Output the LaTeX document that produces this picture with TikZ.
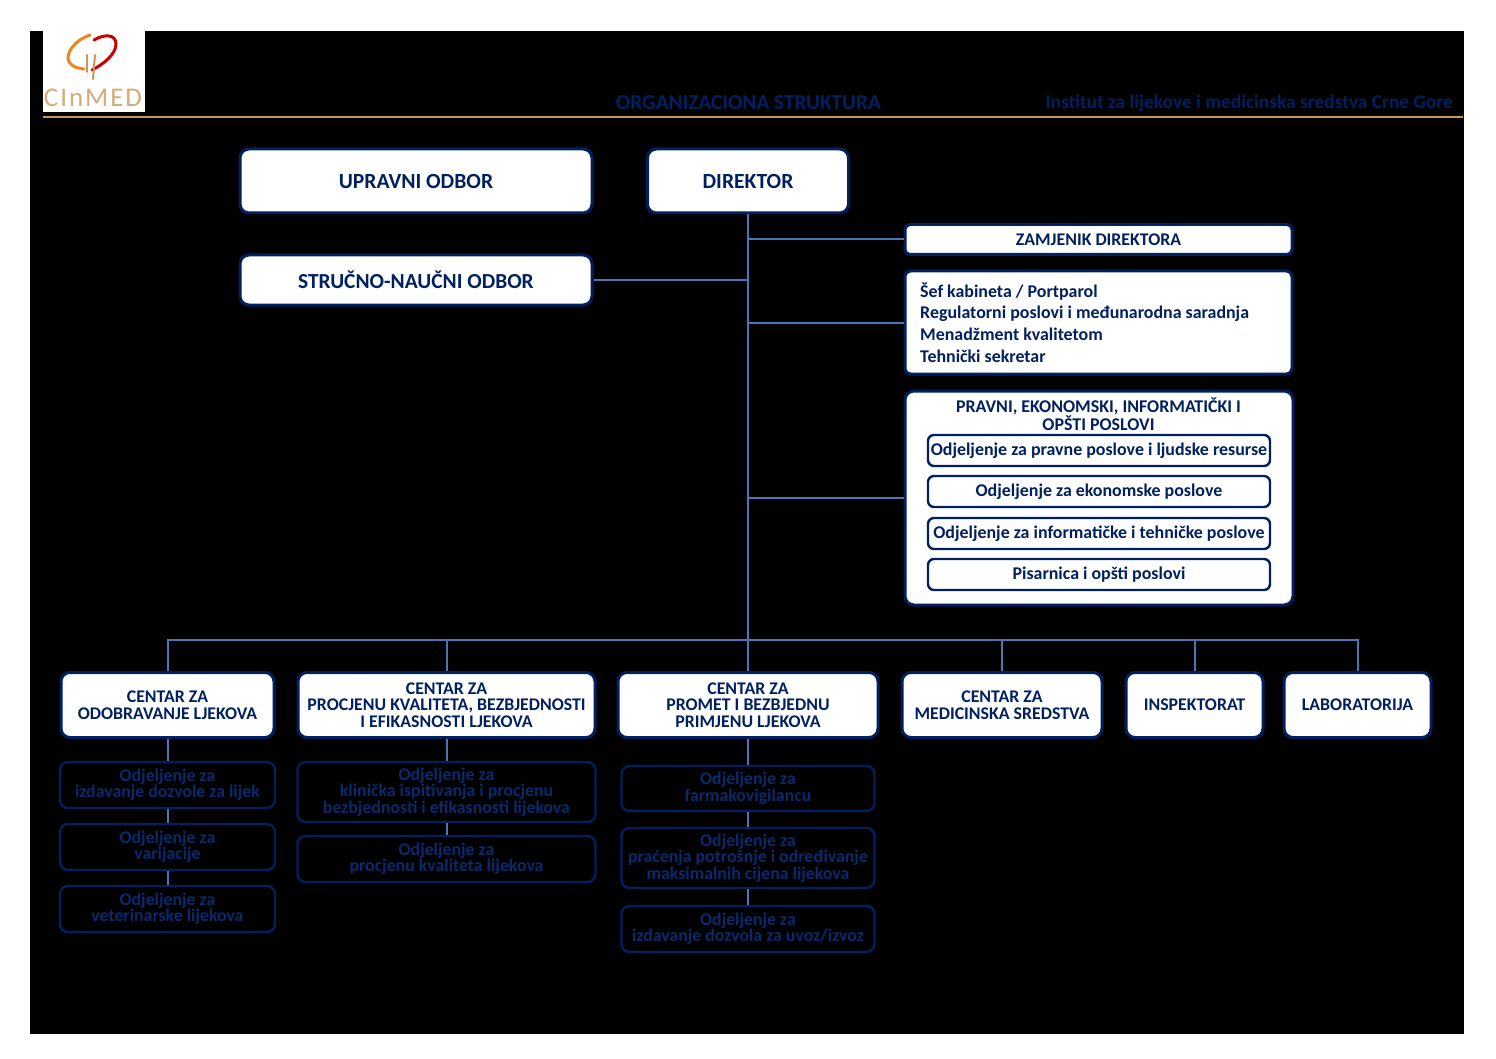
\documentclass[tikz,border=0pt]{standalone}
\usepackage{fontspec}
\setmainfont{Carlito}
\definecolor{navy}{HTML}{002060}
\definecolor{deptblue}{HTML}{0A2A6E}
\definecolor{conn}{HTML}{4A76B8}
\definecolor{tan}{HTML}{C8975A}
\newcommand{\fs}[2]{\fontsize{#1}{#2}\selectfont\bfseries}
\begin{document}
\begin{tikzpicture}[x=1pt,y=-1pt,
  box/.style={draw=navy,line width=3pt,fill=white,rounded corners=9pt,inner sep=0pt,align=center,text=navy,font=\fs{17.8}{16.5}},
  subbox/.style={draw=navy,line width=2.4pt,fill=white,rounded corners=6pt,inner sep=0pt,align=center,text=navy,font=\fs{17.9}{18}},
  dept/.style={draw=navy,line width=2.4pt,fill=black,rounded corners=8pt,inner sep=0pt,align=center,text=deptblue,font=\fs{17.8}{16.5}},
  link/.style={draw=conn,line width=2pt}]
\useasboundingbox (0,0) rectangle (1496,1059);
\fill[white] (0,0) rectangle (1496,1059);
\fill[black] (30,31) rectangle (1464,1034);
% logo
\fill[white] (43,31) rectangle (145,112);
\draw[line width=3pt,color=orange!70!tan,line cap=round] (90,35) .. controls (76,40) and (68,50) .. (68,58) .. controls (68,64) and (74,68) .. (84,69);
\draw[line width=3pt,color=red!80!black,line cap=round] (94,40) .. controls (104,34) and (116,34) .. (116,44) .. controls (116,54) and (104,64) .. (92,70);
\draw[line width=2pt,color=tan,line cap=round] (87,55) -- (87,72);
\draw[line width=2pt,color=tan,line cap=round] (95,55) -- (93,79);
\node (logotext) at (93,98) [text=tan!80!white,inner sep=0pt,font=\fontsize{27}{27}\selectfont] {C\kern2pt I\kern2pt n\kern2pt M\kern2pt E\kern2pt D};
% header
\node (title) at (748.5,102.5) [text=navy,inner sep=0pt,font=\fs{21.3}{22}] {ORGANIZACIONA STRUKTURA};
\node (inst) [anchor=east,text=navy,inner sep=0pt,font=\fs{19.4}{20}] at (1453,103.5) {Institut za lijekove i medicinska sredstva Crne Gore};
\coordinate (ruleA) at (43,117);
\coordinate (ruleB) at (1463,117);
\coordinate (ruleC) at (493,117);
\coordinate (ruleD) at (826,117);
\draw[tan,line width=1.6pt] (ruleA) -- (ruleB);
\draw[tan,line width=2.2pt] (ruleC) -- (ruleD);
% top boxes
\node[box,minimum width=352pt,minimum height=64pt,font=\fs{21.6}{22}] (upr) at (416,181) {UPRAVNI ODBOR};
\node[box,minimum width=201pt,minimum height=64pt,font=\fs{21.6}{22}] (dir) at (748,181) {DIREKTOR};
\node[box,minimum width=352pt,minimum height=50pt,font=\fs{21.4}{22}] (str) at (416,280) {STRUČNO-NAUČNI ODBOR};
\node[box,minimum width=387pt,minimum height=30pt,rounded corners=5pt] (zam) at (1098.5,239.5) {ZAMJENIK DIREKTORA};
\node[box,minimum width=387pt,minimum height=103pt,rounded corners=6pt] (sef) at (1098.5,322.5) {};
\node[anchor=west,text=navy,inner sep=0pt,align=left,font=\fs{17.9}{21.7}] (seft) at (920,322.5) {Šef kabineta / Portparol\\Regulatorni poslovi i međunarodna saradnja\\Menadžment kvalitetom\\Tehnički sekretar};
\node[box,minimum width=388pt,minimum height=214pt] (prav) at (1099,498) {};
\node[text=navy,inner sep=0pt,align=center,font=\fs{17.9}{17}] (pravt) at (1098.5,414.5) {PRAVNI, EKONOMSKI, INFORMATIČKI I\\OPŠTI POSLOVI};
\node[subbox,minimum width=342pt,minimum height=31pt] (s1) at (1099,450.5) {Odjeljenje za pravne poslove i ljudske resurse};
\node[subbox,minimum width=342pt,minimum height=31pt] (s2) at (1099,491.5) {Odjeljenje za ekonomske poslove};
\node[subbox,minimum width=342pt,minimum height=31pt] (s3) at (1099,533.5) {Odjeljenje za informatičke i tehničke poslove};
\node[subbox,minimum width=342pt,minimum height=31pt] (s4) at (1099,574.5) {Pisarnica i opšti poslovi};
\coordinate (bus) at (748,640);
% centres
\node[box,minimum width=213pt,minimum height=65pt] (c1) at (167.5,705) {CENTAR ZA\\ODOBRAVANJE LJEKOVA};
\node[box,minimum width=297pt,minimum height=65pt] (c2) at (446.5,705) {CENTAR ZA\\PROCJENU KVALITETA, BEZBJEDNOSTI\\I EFIKASNOSTI LJEKOVA};
\node[box,minimum width=260pt,minimum height=65pt] (c3) at (748,705) {CENTAR ZA\\PROMET I BEZBJEDNU\\PRIMJENU LJEKOVA};
\node[box,minimum width=200pt,minimum height=65pt] (c4) at (1002,705) {CENTAR ZA\\MEDICINSKA SREDSTVA};
\node[box,minimum width=137pt,minimum height=65pt] (c5) at (1194.5,705) {INSPEKTORAT};
\node[box,minimum width=147pt,minimum height=65pt] (c6) at (1357.5,705) {LABORATORIJA};
% departments
\node[dept,minimum width=215pt,minimum height=46pt] (d11) at (167.5,785) {Odjeljenje za\\izdavanje dozvole za lijek};
\node[dept,minimum width=215pt,minimum height=46pt] (d12) at (167.5,847) {Odjeljenje za\\varijacije};
\node[dept,minimum width=215pt,minimum height=46pt] (d13) at (167.5,909) {Odjeljenje za\\veterinarske lijekova};
\node[dept,minimum width=298pt,minimum height=60pt] (d21) at (446.5,792) {Odjeljenje za\\klinička ispitivanja i procjenu\\bezbjednosti i efikasnosti lijekova};
\node[dept,minimum width=298pt,minimum height=46pt] (d22) at (446.5,859) {Odjeljenje za\\procjenu kvaliteta lijekova};
\node[dept,minimum width=253pt,minimum height=45pt] (d31) at (748,788.5) {Odjeljenje za\\farmakovigilancu};
\node[dept,minimum width=253pt,minimum height=60pt] (d32) at (748,858) {Odjeljenje za\\praćenja potrošnje i određivanje\\maksimalnih cijena lijekova};
\node[dept,minimum width=253pt,minimum height=46pt] (d33) at (748,929) {Odjeljenje za\\izdavanje dozvola za uvoz/izvoz};
% connectors
\draw[link] (dir.south) -- (c3.north);
\draw[link] (dir.south |- zam.west) -- (zam.west);
\draw[link] (dir.south |- sef.west) -- (sef.west);
\draw[link] (dir.south |- prav.west) -- (prav.west);
\draw[link] (str.east) -- (str.east -| dir.south);
\draw[link] (c1.north) |- (bus);
\draw[link] (c2.north) |- (bus);
\draw[link] (c4.north) |- (bus);
\draw[link] (c5.north) |- (bus);
\draw[link] (c6.north) |- (bus);
\draw[link] (c1.south) -- (d11.north);
\draw[link] (d11.south) -- (d12.north);
\draw[link] (d12.south) -- (d13.north);
\draw[link] (c2.south) -- (d21.north);
\draw[link] (d21.south) -- (d22.north);
\draw[link] (c3.south) -- (d31.north);
\draw[link] (d31.south) -- (d32.north);
\draw[link] (d32.south) -- (d33.north);
\end{tikzpicture}
\end{document}
